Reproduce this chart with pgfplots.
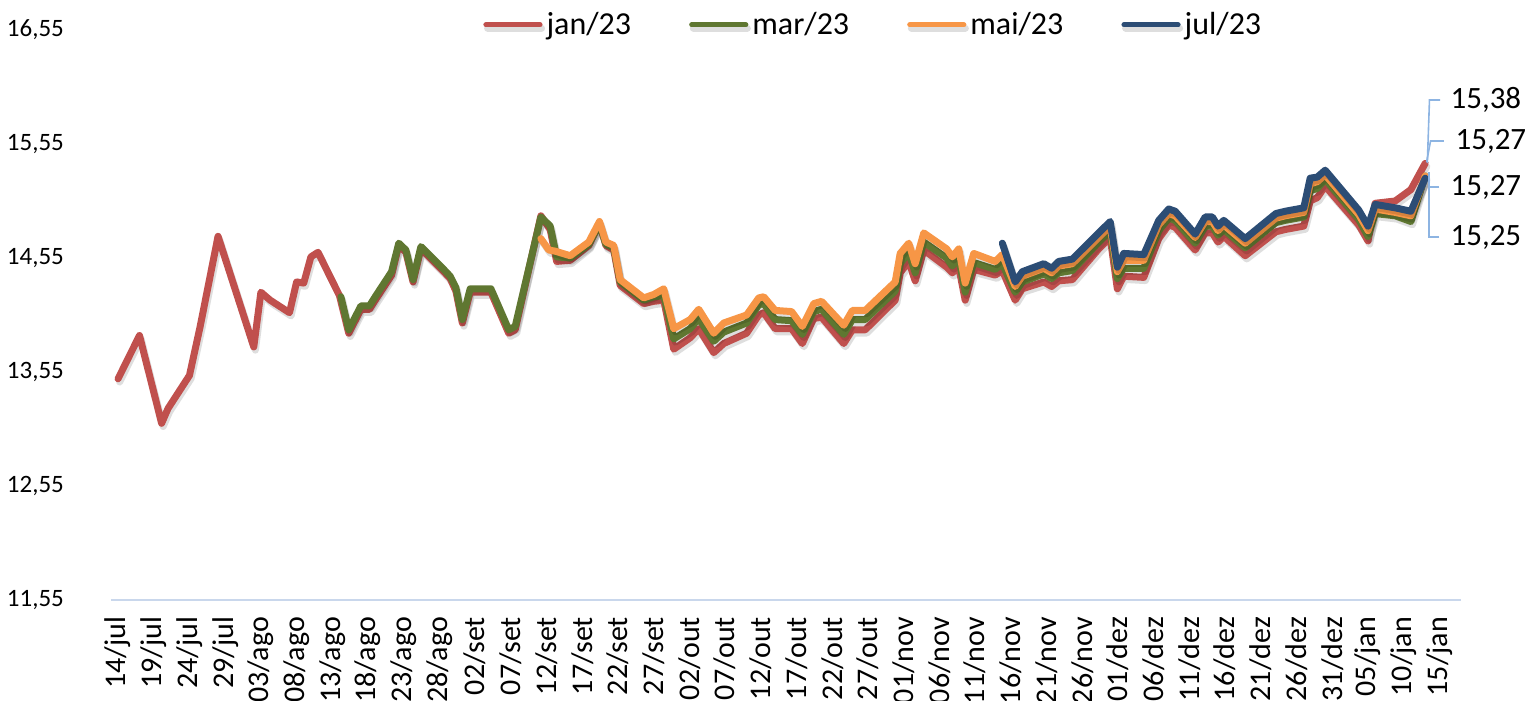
\documentclass[border=0pt]{standalone}
\usepackage{pgfplots}
\pgfplotsset{compat=1.18}
\usepackage{pgfplotstable}
\usepackage{fontspec}
\setmainfont{Carlito}

\definecolor{cjan}{HTML}{C0504D}
\definecolor{cmar}{HTML}{5F7731}
\definecolor{cmai}{HTML}{F79646}
\definecolor{cjul}{HTML}{2C4D75}
\definecolor{axisblue}{HTML}{C9D7EC}
\definecolor{leader}{HTML}{8DB4E2}

% x = days after 14/jul
\pgfplotstableread{
x y
0 13.49
3 13.87
6.1 13.10
7 13.23
10 13.52
11.5 13.95
14 14.74
19 13.77
20 14.25
21.3 14.18
24 14.07
25 14.34
26 14.33
27 14.56
28 14.60
31 14.22
32.3 13.89
34 14.10
35.2 14.10
36 14.18
38.3 14.40
39.3 14.66
40.3 14.60
41.3 14.34
42.4 14.63
45.6 14.43
46.5 14.37
47.3 14.26
48.2 13.98
49.3 14.25
52.2 14.25
54.7 13.89
55.6 13.92
59.2 14.92
60.5 14.80
61.4 14.52
63.3 14.53
65.9 14.66
67.4 14.85
68.3 14.66
69.4 14.62
70.3 14.31
73.6 14.15
75 14.17
76.4 14.18
77.8 13.75
80.1 13.85
81.3 13.93
83.4 13.72
84.8 13.80
88 13.89
89.7 14.05
90.4 14.07
92 13.93
94.3 13.93
95.8 13.80
97.4 14.02
98.5 14.03
101.6 13.80
102.8 13.92
104.6 13.92
108.8 14.18
109.5 14.42
110.7 14.52
111.6 14.35
112.8 14.62
116 14.47
116.8 14.42
117.7 14.47
118.6 14.18
119.8 14.45
122.8 14.40
123.8 14.44
125.6 14.18
126.6 14.28
129.6 14.34
130.7 14.30
131.7 14.35
133.6 14.36
137.3 14.63
138.9 14.73
139.9 14.28
140.8 14.39
143.6 14.38
145.7 14.72
147.1 14.84
148 14.82
150.8 14.62
152.2 14.77
153.2 14.77
154 14.69
154.8 14.74
157.8 14.57
162.1 14.78
163.4 14.80
166 14.83
166.9 15.05
167.9 15.08
169 15.18
173.7 14.84
175 14.70
176 15.03
178.8 15.05
181 15.15
183 15.38
}\datajan

\pgfplotstableread{
x y
31.2 14.21
32.3 13.92
34 14.13
35.2 14.13
36 14.21
38.3 14.43
39.3 14.68
40.3 14.62
41.3 14.36
42.4 14.65
45.6 14.45
46.5 14.39
47.3 14.29
48.2 14.01
49.3 14.28
52.2 14.28
54.7 13.92
55.6 13.95
59.2 14.91
60.5 14.83
61.4 14.56
63.3 14.55
65.9 14.67
67.4 14.85
68.3 14.67
69.4 14.64
70.3 14.34
73.6 14.18
75 14.21
76.4 14.22
77.8 13.84
80.1 13.93
81.3 14.02
83.4 13.82
84.8 13.90
88 13.98
89.7 14.14
90.4 14.15
92 14.01
94.3 14.00
95.8 13.88
97.4 14.08
98.5 14.10
101.6 13.88
102.8 14.01
104.6 14.01
108.8 14.26
109.5 14.50
110.7 14.60
111.6 14.42
112.8 14.69
116 14.55
116.8 14.48
117.7 14.55
118.6 14.25
119.8 14.51
122.8 14.45
123.8 14.50
125.6 14.25
126.6 14.34
129.6 14.41
130.7 14.37
131.7 14.42
133.6 14.44
137.3 14.69
138.9 14.79
139.9 14.37
140.8 14.46
143.6 14.46
145.7 14.79
147.1 14.90
148 14.88
150.8 14.68
152.2 14.83
153.2 14.83
154 14.75
154.8 14.80
157.8 14.64
162.1 14.86
163.4 14.88
166 14.91
166.9 15.14
167.9 15.16
169 15.24
173.7 14.89
175 14.74
176 14.94
178.8 14.92
181 14.87
183 15.27
}\datamar

\pgfplotstableread{
x y
59.2 14.72
60.3 14.62
61.2 14.61
63.3 14.57
65.9 14.69
67.4 14.87
68.3 14.69
69.4 14.66
70.3 14.36
73.6 14.20
75 14.23
76.4 14.28
77.8 13.93
80.1 14.01
81.3 14.10
83.4 13.89
84.8 13.98
88 14.05
89.7 14.20
90.4 14.21
92 14.09
94.3 14.08
95.8 13.95
97.4 14.15
98.5 14.17
101.6 13.96
102.8 14.09
104.6 14.09
108.8 14.34
109.5 14.59
110.7 14.68
111.6 14.50
112.8 14.77
116 14.63
116.8 14.56
117.7 14.63
118.6 14.33
119.8 14.59
122.8 14.52
123.8 14.58
125.6 14.30
126.6 14.39
129.6 14.46
130.7 14.42
131.7 14.48
133.6 14.50
137.3 14.73
138.9 14.83
139.9 14.43
140.8 14.53
143.6 14.53
145.7 14.84
147.1 14.94
148 14.92
150.8 14.73
152.2 14.87
153.2 14.87
154 14.79
154.8 14.84
157.8 14.68
162.1 14.90
163.4 14.92
166 14.95
166.9 15.20
167.9 15.22
169 15.28
173.7 14.93
175 14.79
176 14.98
178.8 14.95
181 14.92
183 15.27
}\datamai

\pgfplotstableread{
x y
123.8 14.68
125.6 14.34
126.6 14.43
129.6 14.50
130.7 14.46
131.7 14.52
133.6 14.54
137.3 14.77
138.9 14.87
139.9 14.47
140.8 14.59
143.6 14.58
145.7 14.88
147.1 14.98
148 14.96
150.8 14.76
152.2 14.91
153.2 14.91
154 14.83
154.8 14.88
157.8 14.72
162.1 14.94
163.4 14.96
166 14.99
166.9 15.25
167.9 15.26
169 15.32
173.7 14.97
175 14.83
176 15.02
178.8 14.99
181 14.96
183 15.25
}\datajul

\begin{document}
\begin{tikzpicture}
\path[use as bounding box] (-55.45pt,-50.5pt) rectangle (708.05pt,300pt);
\begin{axis}[
  at={(0pt,0pt)}, anchor=south west,
  scale only axis,
  width=675pt, height=285pt,
  xmin=-1, xmax=188,
  ymin=11.55, ymax=16.55,
  clip=false,
  axis x line*=bottom, axis y line*=left,
  x axis line style={draw=axisblue, line width=1pt, -},
  y axis line style={draw=none},
  major tick length=0pt,
  xtick={0,5,...,185},
  xticklabels={14/jul,19/jul,24/jul,29/jul,03/ago,08/ago,13/ago,18/ago,23/ago,28/ago,
    02/set,07/set,12/set,17/set,22/set,27/set,02/out,07/out,12/out,17/out,22/out,27/out,
    01/nov,06/nov,11/nov,16/nov,21/nov,26/nov,01/dez,06/dez,11/dez,16/dez,21/dez,26/dez,31/dez,
    05/jan,10/jan,15/jan},
  xticklabel style={yshift=-5pt, rotate=90, anchor=east, font=\fontsize{15}{16}\selectfont},
  ytick={11.55,12.55,13.55,14.55,15.55,16.55},
  yticklabels={{11,55},{12,55},{13,55},{14,55},{15,55},{16,55}},
  yticklabel style={anchor=east, font=\fontsize{12.5}{13}\selectfont, xshift=-20pt},
  legend columns=4,
  legend style={at={(0.2756,1.009)}, anchor=west, draw=none, fill=none,
    font=\fontsize{16}{18}\selectfont,
    /tikz/every even column/.append style={column sep=27pt},
    inner sep=0pt},
  legend image code/.code={\draw[#1, line width=2.6pt, line cap=round, preaction={draw=none}] (0pt,0pt) -- (27pt,0pt);},
  every axis plot/.append style={line width=3.5pt, line join=round, line cap=round},
  shadow/.style={preaction={draw=black, opacity=0.13,
    transform canvas={shift={(0.8pt,-1.6pt)}}}},
]
\addplot[cjan, no markers, shadow] table {\datajan};
\addlegendentry{jan/23}
\addplot[cmar, no markers, shadow] table {\datamar};
\addlegendentry{mar/23}
\addplot[cmai, no markers, shadow] table {\datamai};
\addlegendentry{mai/23}
\addplot[cjul, no markers, shadow] table {\datajul};
\addlegendentry{jul/23}

% leader lines and data labels
\draw[leader, line width=0.8pt] (axis cs:185.1,15.936) -- (axis cs:183.6,15.936) -- (axis cs:183.3,15.383);
\draw[leader, line width=0.8pt] (axis cs:185.6,15.576) -- (axis cs:183.75,15.576) -- (axis cs:183.2,15.392);
\draw[leader, line width=0.8pt] (axis cs:185.0,15.173) -- (axis cs:183.5,15.173) -- (axis cs:183.5,15.30);
\draw[leader, line width=0.8pt] (axis cs:185.0,14.734) -- (axis cs:183.5,14.734) -- (axis cs:183.5,15.25);
\node[anchor=west, inner sep=0pt, font=\fontsize{15.5}{16}\selectfont] at (axis cs:186.5,15.936) {15,38};
\node[anchor=west, inner sep=0pt, font=\fontsize{15.5}{16}\selectfont] at (axis cs:187.2,15.576) {15,27};
\node[anchor=west, inner sep=0pt, font=\fontsize{15.5}{16}\selectfont] at (axis cs:186.5,15.173) {15,27};
\node[anchor=west, inner sep=0pt, font=\fontsize{15.5}{16}\selectfont] at (axis cs:186.5,14.734) {15,25};
\end{axis}
\end{tikzpicture}
\end{document}
